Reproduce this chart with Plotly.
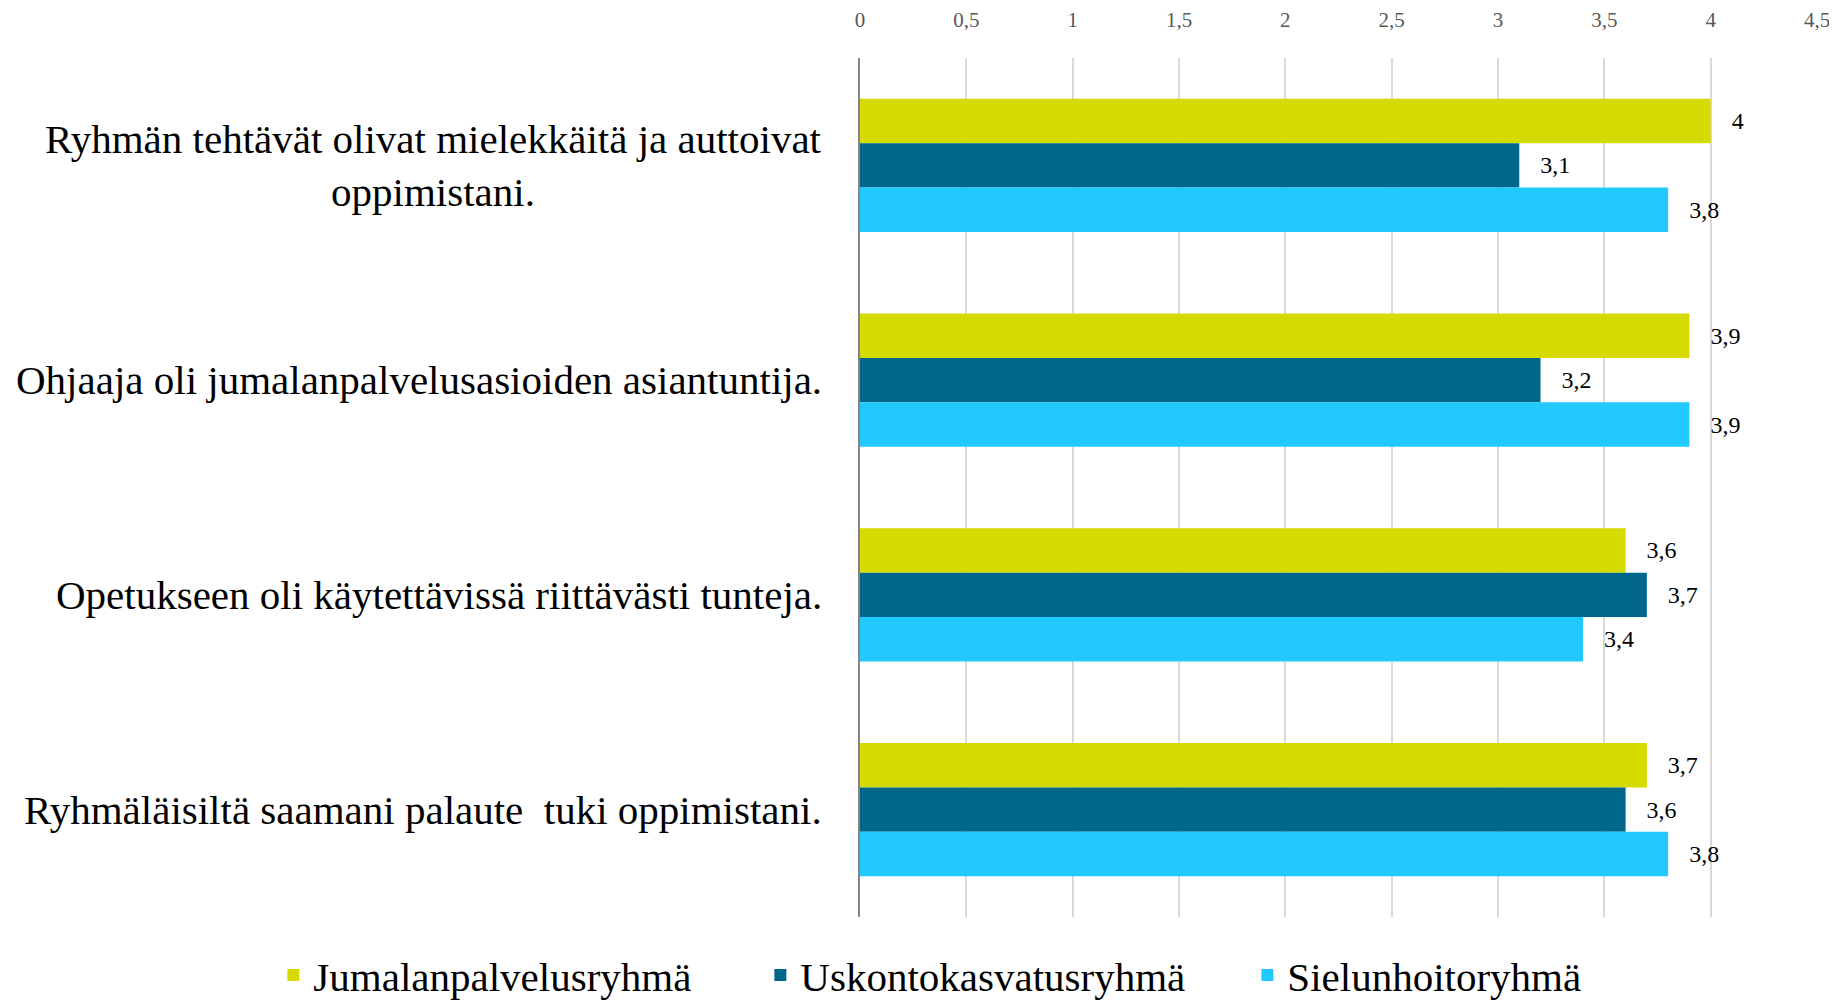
import plotly.graph_objects as go

categories = [
    "Ryhmän tehtävät olivat mielekkäitä ja auttoivat<br>oppimistani.",
    "Ohjaaja oli jumalanpalvelusasioiden asiantuntija.",
    "Opetukseen oli käytettävissä riittävästi tunteja.",
    "Ryhmäläisiltä saamani palaute  tuki oppimistani.",
]
series_names = ["Jumalanpalvelusryhmä", "Uskontokasvatusryhmä", "Sielunhoitoryhmä"]
jumalanpalvelus = [4, 3.9, 3.6, 3.7]
uskontokasvatus = [3.1, 3.2, 3.7, 3.6]
sielunhoito = [3.8, 3.9, 3.4, 3.8]
colors = ["#D5DA00", "#00678A", "#21C9FF"]
x_ticks = [0, 0.5, 1, 1.5, 2, 2.5, 3, 3.5, 4, 4.5]

FONT = "Liberation Serif"

fig = go.Figure()
for name, vals, col in zip(series_names, [jumalanpalvelus, uskontokasvatus, sielunhoito], colors):
    fig.add_trace(go.Bar(
        name=name, y=categories, x=vals, orientation="h",
        marker=dict(color=col, line=dict(width=0)),
        text=["\u00a0\u00a0\u00a0" + str(v).replace(".", ",") for v in vals],
        textposition="outside", constraintext="none", cliponaxis=False,
        textfont=dict(family=FONT, size=24, color="#000000"),
        hoverinfo="x+name",
    ))

for c in categories:
    fig.add_annotation(
        x=0, xref="paper", xanchor="right", xshift=-36,
        y=c, yref="y", yanchor="middle",
        text=c, showarrow=False, align="center",
        font=dict(family=FONT, size=41, color="#000000"),
    )

fig.update_layout(
    width=1837, height=1000,
    paper_bgcolor="white", plot_bgcolor="white",
    margin=dict(l=852, r=28, t=50, b=91, autoexpand=False),
    barmode="group", bargap=0.38, bargroupgap=0,
    separators=", ",
    font=dict(family=FONT, color="#000000"),
    legend=dict(
        orientation="h", xref="paper", yref="paper",
        x=-0.613, xanchor="left", y=-0.068, yanchor="middle",
        font=dict(family=FONT, size=41, color="#000000"),
        traceorder="normal", entrywidth=442,
    ),
    xaxis=dict(
        side="top", range=[0, 4.5], tickvals=x_ticks,
        ticktext=[str(t).replace(".", ",") for t in x_ticks],
        showgrid=True, gridcolor="#D9D9D9", gridwidth=1.5,
        zeroline=False, showline=False, ticks="",
        tickfont=dict(family=FONT, size=21, color="#595959"),
        ticklabelstandoff=26,
    ),
    yaxis=dict(
        autorange="reversed", showticklabels=False, showgrid=False,
        showline=True, linecolor="#868686", linewidth=1.5, ticks="",
    ),
)

fig.write_html("out.html")
